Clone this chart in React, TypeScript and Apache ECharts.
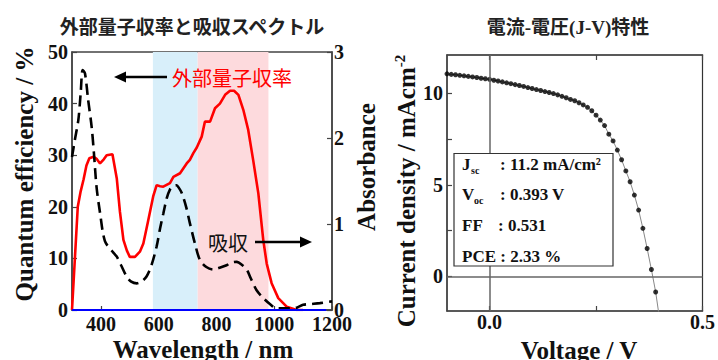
import React, { useEffect, useRef } from "react";
import * as echarts from "echarts";

// ---------- Left chart: EQE and absorbance ----------
const wavelengthTicks = [400, 600, 800, 1000, 1200];

const eqeWavelength = [300, 310, 320, 330, 340, 350, 360, 375, 385, 397, 410, 420, 440, 455, 466, 478, 490, 500, 518, 535, 547, 564, 581, 593, 605, 616, 639, 651, 674, 697, 708, 720, 732, 749, 760, 778, 795, 812, 830, 847, 861, 876, 893, 910, 927, 945, 962, 974, 991, 1014, 1043, 1078, 1100];
const eqeValue = [0, 10, 20, 23, 25.3, 28, 29.4, 29.7, 29.3, 28.4, 29.2, 30.0, 30.2, 25.5, 19, 13.6, 11.5, 10.3, 10.3, 11.3, 12.9, 17.4, 22, 24.2, 24.0, 23.9, 24.6, 25.8, 26.5, 28.4, 29.1, 30.4, 31.5, 33.6, 36.5, 36.5, 39.1, 40.0, 41.7, 42.5, 42.5, 41.7, 38.8, 34.9, 29.1, 22.6, 13.6, 9.0, 5.2, 2.3, 0.65, 0, 0];

const absWavelength = [300, 310, 322, 330, 337, 345, 356, 368, 376, 385, 397, 414, 440, 455, 470, 489, 505, 524, 540, 558, 575, 593, 605, 616, 628, 639, 650, 662, 670, 680, 695, 708, 725, 743, 765, 789, 810, 835, 850, 870, 890, 905, 920, 939, 962, 985, 1008, 1030, 1060, 1080, 1100, 1130, 1158, 1200];
const absValue = [1.78, 1.98, 2.21, 2.52, 2.79, 2.75, 2.44, 2.13, 1.82, 1.43, 1.13, 0.8, 0.68, 0.62, 0.52, 0.39, 0.33, 0.31, 0.33, 0.39, 0.52, 0.74, 0.95, 1.12, 1.3, 1.4, 1.44, 1.45, 1.42, 1.36, 1.2, 1.01, 0.78, 0.58, 0.5, 0.47, 0.49, 0.52, 0.55, 0.56, 0.52, 0.47, 0.36, 0.23, 0.14, 0.07, 0.02, 0.02, 0.02, 0.03, 0.06, 0.07, 0.08, 0.1];

const baseWavelength = [300, 1180];
const baseValue = [0, 0];

const blueBand = [580, 735];
const pinkBand = [735, 980];

// ---------- Right chart: J-V ----------
const voltageLabels = [0, 0.5];
const voltageTicks = [0, 0.25, 0.5];
const currentLabels = [0, 5, 10];
const currentTicks = [0, 2.5, 5, 7.5, 10];

const jvVoltage = [-0.10, -0.09, -0.08, -0.07, -0.06, -0.05, -0.04, -0.03, -0.02, -0.01, 0.00, 0.01, 0.02, 0.03, 0.04, 0.05, 0.06, 0.07, 0.08, 0.09, 0.10, 0.11, 0.12, 0.13, 0.14, 0.15, 0.16, 0.17, 0.18, 0.19, 0.20, 0.21, 0.22, 0.23, 0.24, 0.25, 0.26, 0.27, 0.28, 0.29, 0.30, 0.31, 0.32, 0.33, 0.34, 0.35, 0.36, 0.37, 0.38, 0.39];
const jvCurrent = [11.07, 11.04, 11.02, 10.99, 10.96, 10.93, 10.90, 10.87, 10.83, 10.80, 10.77, 10.72, 10.68, 10.63, 10.58, 10.53, 10.48, 10.43, 10.38, 10.32, 10.27, 10.21, 10.16, 10.10, 10.05, 9.99, 9.92, 9.84, 9.76, 9.67, 9.60, 9.49, 9.37, 9.24, 9.05, 8.81, 8.54, 8.24, 7.77, 7.40, 6.90, 6.37, 5.76, 5.17, 4.44, 3.62, 2.62, 1.52, 0.37, -0.86];
const fitTailVoltage = [0.399];
const fitTailCurrent = [-2.3];

const paramNames = ["J", "V", "FF", "PCE"];
const paramSubs = ["sc", "oc", "", ""];
const paramValues = [": 11.2 mA/cm²", ": 0.393 V", ": 0.531", ": 2.33 %"];

const SERIF = "'Liberation Serif', 'Times New Roman', serif";
const CJK = "'Noto Sans CJK JP', sans-serif";

export default function App() {
  const ref = useRef<HTMLDivElement>(null);

  useEffect(() => {
    if (!ref.current) return;
    const chart = echarts.init(ref.current, undefined, { renderer: "svg" });

    const eqeData = eqeWavelength.map((w, i) => [w, eqeValue[i]]);
    const absData = absWavelength.map((w, i) => [w, absValue[i]]);
    const baseData = baseWavelength.map((w, i) => [w, baseValue[i]]);
    const jvData = jvVoltage.map((v, i) => [v, jvCurrent[i]]);
    const fitData = jvData.concat(fitTailVoltage.map((v, i) => [v, fitTailCurrent[i]]));

    const numLabel = { color: "#111", fontFamily: SERIF, fontWeight: "bold", fontSize: 20 };
    const axisLine = { show: true, onZero: false, lineStyle: { color: "#444", width: 1.5 } };
    const tick = { show: true, inside: true, length: 5, lineStyle: { color: "#444", width: 1.2 } };
    const center = { align: "center", verticalAlign: "middle", textAlign: "center", textVerticalAlign: "middle" };
    const leftMid = { align: "left", verticalAlign: "middle", textAlign: "left", textVerticalAlign: "middle" };

    const paramGraphics: any[] = [];
    const rowY = [164, 194, 225, 256];
    paramNames.forEach((name, i) => {
      const txtStyle = { fontFamily: SERIF, fontWeight: "bold", fontSize: 17, fill: "#111", ...leftMid };
      if (name === "PCE") {
        paramGraphics.push({ type: "text", z: 31, x: 462, y: rowY[i], style: { ...txtStyle, text: name + " " + paramValues[i] } });
      } else {
        paramGraphics.push({ type: "text", z: 31, x: 462, y: rowY[i], style: { ...txtStyle, text: name } });
        if (paramSubs[i]) {
          paramGraphics.push({ type: "text", z: 31, x: name === "J" ? 471 : 474, y: rowY[i] + 6, style: { ...txtStyle, fontSize: 10, text: paramSubs[i] } });
        }
        paramGraphics.push({ type: "text", z: 31, x: name === "FF" ? 498 : 500, y: rowY[i], style: { ...txtStyle, text: paramValues[i] } });
      }
    });

    const option: any = {
      animation: false,
      backgroundColor: "#ffffff",
      grid: [
        { left: 72, right: 386, top: 52, bottom: 50, show: true, borderColor: "#444", borderWidth: 1.5, backgroundColor: "transparent" },
        { left: 447, right: 15, top: 55, bottom: 49, show: true, borderColor: "#333", borderWidth: 1.2, backgroundColor: "transparent" },
      ],
      xAxis: [
        {
          gridIndex: 0, type: "value", min: 300, max: 1200,
          axisLine, axisTick: { ...tick, length: 4, customValues: wavelengthTicks },
          axisLabel: { ...numLabel, margin: 4, customValues: wavelengthTicks, formatter: (v: number) => String(v) },
          splitLine: { show: false },
        },
        {
          gridIndex: 1, type: "value", min: -0.1, max: 0.5,
          axisLine, axisTick: { ...tick, customValues: voltageTicks },
          axisLabel: { ...numLabel, margin: 1, customValues: voltageLabels, formatter: (v: number) => v.toFixed(1) },
          splitLine: { show: false },
        },
        {
          gridIndex: 1, type: "value", min: -0.1, max: 0.5, position: "top",
          axisLine, axisTick: { ...tick, customValues: voltageTicks },
          axisLabel: { show: false },
          splitLine: { show: false },
        },
      ],
      yAxis: [
        {
          gridIndex: 0, type: "value", min: 0, max: 50, interval: 10,
          axisLine, axisTick: tick,
          axisLabel: { ...numLabel, margin: 4 },
          splitLine: { show: false },
        },
        {
          gridIndex: 0, type: "value", min: 0, max: 3, interval: 1, position: "right",
          axisLine, axisTick: tick,
          axisLabel: { ...numLabel, margin: 2 },
          splitLine: { show: false },
        },
        {
          gridIndex: 1, type: "value", min: -1.9, max: 12.1,
          axisLine, axisTick: { ...tick, customValues: currentTicks },
          axisLabel: { ...numLabel, margin: 4, customValues: currentLabels },
          splitLine: { show: false },
        },
      ],
      series: [
        {
          name: "bands", type: "line", xAxisIndex: 0, yAxisIndex: 0, z: 1,
          data: eqeData, showSymbol: false, lineStyle: { opacity: 0 }, silent: true,
          markArea: {
            silent: true,
            data: [
              [{ xAxis: blueBand[0], itemStyle: { color: "#d8effa" } }, { xAxis: blueBand[1] }],
              [{ xAxis: pinkBand[0], itemStyle: { color: "#fddadd" } }, { xAxis: pinkBand[1] }],
            ],
          },
        },
        {
          name: "EQE", type: "line", xAxisIndex: 0, yAxisIndex: 0, z: 3,
          data: eqeData, showSymbol: false, symbol: "none",
          lineStyle: { color: "#ff0000", width: 2.6 },
        },
        {
          name: "Absorbance", type: "line", xAxisIndex: 0, yAxisIndex: 1, z: 4,
          data: absData, showSymbol: false, symbol: "none", smooth: 0.3,
          lineStyle: { color: "#000", width: 2.6, type: [11, 6] },
        },
        {
          name: "baseline", type: "line", xAxisIndex: 0, yAxisIndex: 0, z: 5,
          data: baseData, showSymbol: false, symbol: "none",
          lineStyle: { color: "#0000ff", width: 2 },
        },
        {
          name: "fit", type: "line", xAxisIndex: 1, yAxisIndex: 2, z: 2,
          data: fitData, showSymbol: false, symbol: "none",
          lineStyle: { color: "#888", width: 1 },
          markLine: {
            silent: true, symbol: "none", label: { show: false },
            lineStyle: { color: "#666", width: 1.5, type: "solid" },
            data: [{ xAxis: 0 }, { yAxis: 0 }],
          },
        },
        {
          name: "J-V", type: "scatter", xAxisIndex: 1, yAxisIndex: 2, z: 4,
          data: jvData, symbol: "circle", symbolSize: 5,
          itemStyle: { color: "#000" },
        },
      ],
      graphic: [
        // titles
        { type: "text", z: 30, x: 192, y: 25, style: { text: "外部量子収率と吸収スペクトル", fontFamily: CJK, fontWeight: "bold", fontSize: 19, fill: "#222", ...center } },
        { type: "text", z: 30, x: 568, y: 27, style: { text: "電流-電圧(J-V)特性", fontFamily: "'Liberation Serif', 'Noto Sans CJK JP', serif", fontWeight: "bold", fontSize: 19, fill: "#222", ...center } },
        // axis titles
        { type: "text", z: 30, x: 24, y: 174, rotation: Math.PI / 2, style: { text: "Quantum efficiency / %", fontFamily: SERIF, fontWeight: "bold", fontSize: 25, fill: "#111", ...center } },
        { type: "text", z: 30, x: 366, y: 167, rotation: Math.PI / 2, style: { text: "Absorbance", fontFamily: SERIF, fontWeight: "bold", fontSize: 25, fill: "#111", ...center } },
        { type: "text", z: 30, x: 203, y: 349, style: { text: "Wavelength / nm", fontFamily: SERIF, fontWeight: "bold", fontSize: 25, fill: "#111", ...center } },
        { type: "text", z: 30, x: 579, y: 350, style: { text: "Voltage / V", fontFamily: SERIF, fontWeight: "bold", fontSize: 25, fill: "#111", ...center } },
        {
          type: "text", z: 30, x: 406, y: 191, rotation: Math.PI / 2,
          style: {
            text: "{m|Current density / mAcm}{s|-2}",
            ...center,
            fill: "#111",
            rich: {
              m: { fontFamily: SERIF, fontWeight: "bold", fontSize: 25, fill: "#111", color: "#111", lineHeight: 28 },
              s: { fontFamily: SERIF, fontWeight: "bold", fontSize: 15, fill: "#111", color: "#111", verticalAlign: "top", lineHeight: 16 },
            },
          },
        },
        // annotations
        { type: "text", z: 30, x: 172, y: 77, style: { text: "外部量子収率", fontFamily: CJK, fontSize: 20, fill: "#ff0000", ...leftMid } },
        { type: "line", z: 30, shape: { x1: 167, y1: 77, x2: 123, y2: 77 }, style: { stroke: "#000", lineWidth: 2.6 } },
        { type: "polygon", z: 30, shape: { points: [[114, 77], [126, 71.5], [126, 82.5]] }, style: { fill: "#000" } },
        { type: "text", z: 30, x: 208, y: 242, style: { text: "吸収", fontFamily: CJK, fontSize: 20, fill: "#111", ...leftMid } },
        { type: "line", z: 30, shape: { x1: 255, y1: 242, x2: 302, y2: 242 }, style: { stroke: "#000", lineWidth: 2.6 } },
        { type: "polygon", z: 30, shape: { points: [[312, 242], [300, 236.5], [300, 247.5]] }, style: { fill: "#000" } },
        // inset box
        { type: "rect", z: 30, shape: { x: 454, y: 153.5, width: 159, height: 112.5 }, style: { fill: "#fff", stroke: "#333", lineWidth: 1.2 } },
        ...paramGraphics,
      ],
    };

    chart.setOption(option);
    return () => chart.dispose();
  }, []);

  return <div ref={ref} style={{ width: 718, height: 360, position: "absolute", left: 0, top: 0 }} />;
}
